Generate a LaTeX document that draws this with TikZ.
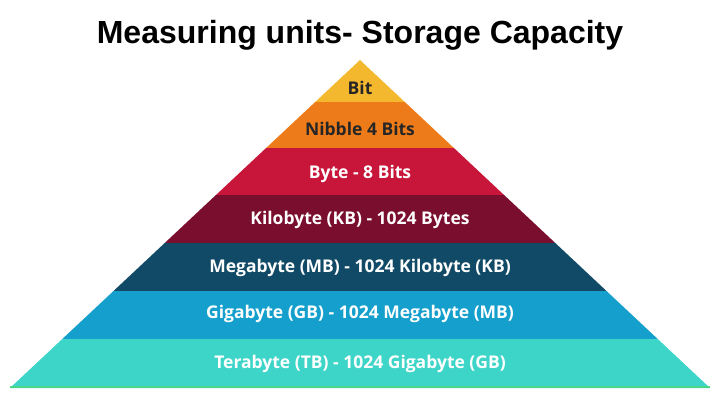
\documentclass[tikz,border=0pt]{standalone}
\usepackage{fontspec}
\setmainfont{Open Sans}
\newfontfamily\titlefont{Liberation Sans}
\definecolor{cbit}{HTML}{F4B82E}
\definecolor{cnib}{HTML}{EE7B1A}
\definecolor{cbyte}{HTML}{C8153A}
\definecolor{ckb}{HTML}{7A0E2E}
\definecolor{cmb}{HTML}{114A66}
\definecolor{cgb}{HTML}{159FCC}
\definecolor{ctb}{HTML}{3DD5C8}
\definecolor{cline}{HTML}{4CD68A}
\begin{document}
\begin{tikzpicture}[x=1pt,y=-1pt,
  lbl/.style={font=\bfseries\fontsize{17.5}{20}\selectfont, text=white},
  lblk/.style={font=\bfseries\fontsize{17.5}{20}\selectfont, text=black!85}]
\useasboundingbox[fill=white] (0,0) rectangle (720,404);
\node[font=\titlefont\bfseries\fontsize{32}{36}\selectfont] (title) at (360,35) {Measuring units- Storage Capacity};
\foreach \ya/\yb/\c in {60/102/cbit,102/148/cnib,148/195/cbyte,195/243/ckb,243/291/cmb,291/339/cgb,339/388/ctb}{
  \pgfmathsetmacro\wa{(\ya-60)/328*350}
  \pgfmathsetmacro\wb{(\yb-60)/328*350}
  \fill[\c] ({360-\wa},\ya) -- ({360+\wa},\ya) -- ({360+\wb},\yb) -- ({360-\wb},\yb) -- cycle;
}
\draw[cline,line width=2.5pt] (10,387) -- (710,387);
\node[lblk] (l1) at (360,88) {Bit};
\node[lblk] (l2) at (360,129) {Nibble 4 Bits};
\node[lbl] (l3) at (360,174) {Byte - 8 Bits};
\node[lbl] (l4) at (360,220) {Kilobyte (KB) - 1024 Bytes};
\node[lbl] (l5) at (360,268) {Megabyte (MB) - 1024 Kilobyte (KB)};
\node[lbl] (l6) at (360,314) {Gigabyte (GB) - 1024 Megabyte (MB)};
\node[lbl] (l7) at (360,364) {Terabyte (TB) - 1024 Gigabyte (GB)};
\end{tikzpicture}
\end{document}
